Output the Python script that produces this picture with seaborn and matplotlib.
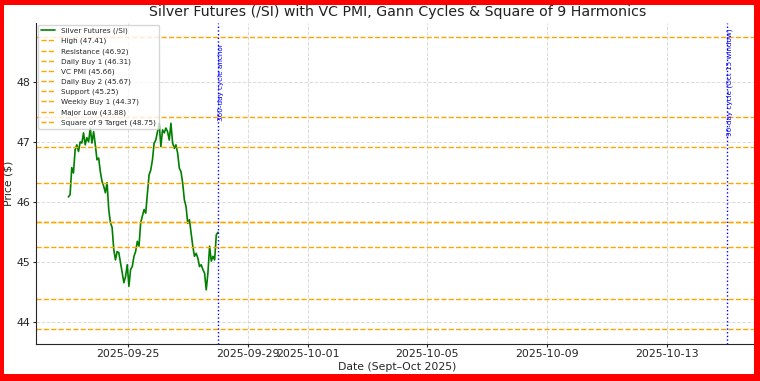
import matplotlib
matplotlib.use("Agg")
import matplotlib.pyplot as plt
import matplotlib.dates as mdates
from matplotlib.patches import Rectangle
import seaborn as sns
import pandas as pd

# ---- data ----
prices = [46.08, 46.12, 46.57, 46.48, 46.87, 46.95, 46.84, 47.00, 46.98, 47.15,
          46.95, 47.07, 47.00, 47.23, 46.98, 47.17, 46.95, 46.70, 46.73, 46.50,
          46.34, 46.26, 46.15, 46.32, 45.87, 45.65, 45.57, 45.20, 45.03, 45.17,
          45.15, 44.98, 44.82, 44.65, 44.75, 44.95, 44.59, 44.87, 44.92, 45.09,
          45.17, 45.34, 45.26, 45.65, 45.76, 45.87, 45.81, 46.14, 46.45, 46.53,
          46.70, 46.98, 47.03, 47.17, 47.31, 46.92, 47.20, 47.15, 47.23, 47.17,
          47.03, 47.31, 46.98, 46.89, 46.95, 46.81, 46.56, 46.50, 46.31, 46.03,
          45.92, 45.64, 45.70, 45.48, 45.26, 45.09, 45.14, 45.06, 44.92, 44.95,
          44.87, 44.81, 44.53, 44.81, 45.26, 45.01, 45.09, 45.03, 45.45, 45.49]
start_date = "2025-09-23"
end_date = "2025-09-28"

level_names = ["High", "Resistance", "Daily Buy 1", "VC PMI", "Daily Buy 2",
               "Support", "Weekly Buy 1", "Major Low", "Square of 9 Target"]
level_values = [47.41, 46.92, 46.31, 45.66, 45.67, 45.25, 44.37, 43.88, 48.75]

cycle_dates = ["2025-09-28", "2025-10-15"]
cycle_labels = ["360-day cycle anchor", "90-day cycle (Oct 15 window)"]

dates = pd.date_range(start_date, end_date, periods=len(prices))
df = pd.DataFrame({"Date": dates, "Price": prices})

# ---- plot ----
sns.set_style("ticks")
plt.rcParams['font.family'] = ['DejaVu Sans']

fig = plt.figure(figsize=(7.6, 3.81), dpi=100)
W, H = 760, 381
ax = fig.add_axes([35.5 / W, (H - 343.5) / H, 724 / W, (343.5 - 22.6) / H])

sns.lineplot(data=df, x="Date", y="Price", ax=ax, color="green", linewidth=1.2,
             label="Silver Futures (/SI)")

for name, val in zip(level_names, level_values):
    ax.axhline(val, color="orange", linestyle="--", linewidth=1.0,
               label=f"{name} ({val:.2f})")

for d, lab in zip(cycle_dates, cycle_labels):
    dt = pd.Timestamp(d)
    ax.axvline(dt, color="blue", linestyle=":", linewidth=1.0)
    ax.text(dt, 48.0, lab, rotation=90, color="blue", fontsize=5.2,
            ha="left", va="center")

ax.set_xlim(pd.Timestamp("2025-09-21 21:36"), pd.Timestamp("2025-10-16 02:24"))
ax.set_ylim(43.635, 48.99)
ax.xaxis.set_major_locator(mdates.AutoDateLocator())
ax.xaxis.set_major_formatter(mdates.DateFormatter("%Y-%m-%d"))

ax.grid(True, linestyle="--", color="#cccccc", linewidth=0.7, alpha=0.7)
ax.set_title("Silver Futures (/SI) with VC PMI, Gann Cycles & Square of 9 Harmonics",
             fontsize=10.2, color="#222222", pad=5)
ax.set_xlabel("Date (Sept\u2013Oct 2025)", fontsize=7.8, labelpad=2)
ax.set_ylabel("Price ($)", fontsize=7.8, labelpad=2)
ax.tick_params(axis="both", labelsize=7.9, length=2.5, pad=1.5)
sns.despine(ax=ax)

ax.legend(loc="upper left", fontsize=5.2, frameon=True, borderaxespad=0.3)

# red frame
red = "#ff0000"
for (x0, y0, w, h) in [(0, H - 5, W, 5), (0, 0, W, 7), (0, 0, 4, H), (W - 6, 0, 6, H)]:
    fig.patches.append(Rectangle((x0 / W, y0 / H), w / W, h / H, transform=fig.transFigure,
                                 facecolor=red, edgecolor="none", zorder=100))

fig.savefig("out.png", dpi=100)
